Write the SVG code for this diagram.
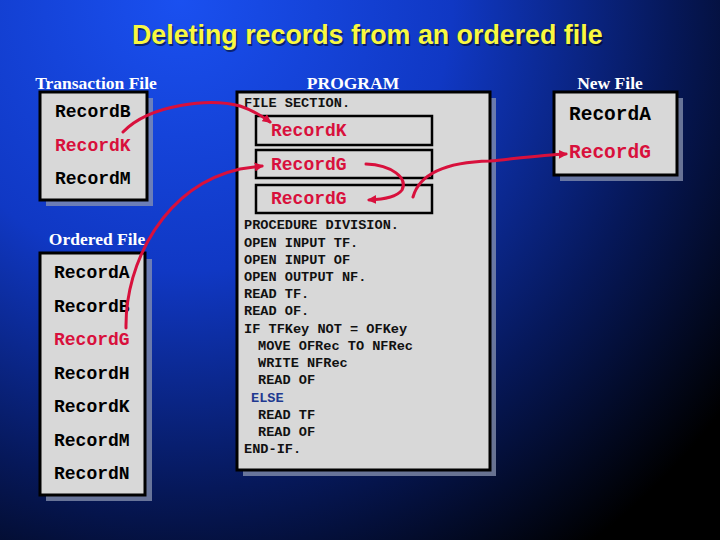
<svg xmlns="http://www.w3.org/2000/svg" width="720" height="540" viewBox="0 0 720 540">
<defs>
<radialGradient id="bg" gradientUnits="userSpaceOnUse" cx="180" cy="0" r="680">
<stop offset="0" stop-color="#1a50f0"/>
<stop offset="0.4" stop-color="#1038c4"/>
<stop offset="0.72" stop-color="#06185a"/>
<stop offset="1" stop-color="#000000"/>
</radialGradient>
<marker id="ah" viewBox="0 0 10 10" refX="8" refY="5" markerWidth="3" markerHeight="3" orient="auto" markerUnits="strokeWidth">
<path d="M0,0 L10,5 L0,10 z" fill="#d8103c"/>
</marker>
</defs>
<style>
.box{fill:#d8d8d8;stroke:#000;stroke-width:3}
.ibox{fill:#d8d8d8;stroke:#000;stroke-width:2.5}
.shadow{fill:#8a94b0;opacity:0.75}
.lbl{font-family:"Liberation Serif",serif;font-weight:bold;font-size:17.5px;fill:#fff}
.rec{font-family:"Liberation Mono",monospace;font-weight:bold;font-size:18px;fill:#000}
.red{fill:#d8103c}
.code{font-family:"Liberation Mono",monospace;font-weight:bold;font-size:13.6px;fill:#111}
.conn{fill:none;stroke:#d8103c;stroke-width:3;stroke-linecap:round;marker-end:url(#ah)}
.title{font-family:"Liberation Sans",Arial,sans-serif;font-weight:bold;font-size:26.8px}
</style>
<rect width="720" height="540" fill="url(#bg)"/>
<text class="title" x="133.5" y="45.5" fill="#000" opacity="0.5">Deleting records from an ordered file</text>
<text class="title" x="132" y="44" fill="#f8f840">Deleting records from an ordered file</text>

<g id="transaction-file">
<text class="lbl" x="96" y="89" text-anchor="middle">Transaction File</text>
<rect class="shadow" x="46" y="98" width="107" height="108"/>
<rect class="box" x="40" y="92" width="107" height="108"/>
<text class="rec" x="55" y="117">RecordB</text>
<text class="rec red" x="55" y="151">RecordK</text>
<text class="rec" x="55" y="184">RecordM</text>
</g>

<g id="ordered-file">
<text class="lbl" x="97" y="245" text-anchor="middle">Ordered File</text>
<rect class="shadow" x="46" y="259" width="106" height="242"/>
<rect class="box" x="40" y="253" width="105" height="242"/>
<text class="rec" x="54" y="278">RecordA</text>
<text class="rec" x="54" y="312">RecordB</text>
<text class="rec red" x="54" y="345">RecordG</text>
<text class="rec" x="54" y="379">RecordH</text>
<text class="rec" x="54" y="412">RecordK</text>
<text class="rec" x="54" y="446">RecordM</text>
<text class="rec" x="54" y="479">RecordN</text>
</g>

<g id="program">
<text class="lbl" x="353" y="89" text-anchor="middle">PROGRAM</text>
<rect class="shadow" x="243" y="98" width="253" height="378"/>
<rect class="box" x="237" y="92" width="253" height="378"/>
<text class="code" x="244" y="107">FILE SECTION.</text>
<rect class="ibox" x="256" y="116" width="176" height="29"/>
<text class="rec red" x="271" y="136">RecordK</text>
<rect class="ibox" x="256" y="150" width="176" height="28"/>
<text class="rec red" x="271" y="170">RecordG</text>
<rect class="ibox" x="256" y="185" width="176" height="28"/>
<text class="rec red" x="271" y="204">RecordG</text>
<text class="code" x="244" y="229">PROCEDURE DIVISION.</text>
<text class="code" x="244" y="247">OPEN INPUT TF.</text>
<text class="code" x="244" y="264">OPEN INPUT OF</text>
<text class="code" x="244" y="281">OPEN OUTPUT NF.</text>
<text class="code" x="244" y="298">READ TF.</text>
<text class="code" x="244" y="315">READ OF.</text>
<text class="code" x="244" y="333">IF TFKey NOT = OFKey</text>
<text class="code" x="258" y="350">MOVE OFRec TO NFRec</text>
<text class="code" x="258" y="367">WRITE NFRec</text>
<text class="code" x="258" y="384">READ OF</text>
<text class="code" x="251" y="402" style="fill:#203890">ELSE</text>
<text class="code" x="258" y="419">READ TF</text>
<text class="code" x="258" y="436">READ OF</text>
<text class="code" x="244" y="453">END-IF.</text>
</g>

<g id="new-file">
<text class="lbl" x="610" y="89" text-anchor="middle">New File</text>
<rect class="shadow" x="560" y="98" width="123" height="83"/>
<rect class="box" x="554" y="92" width="123" height="83"/>
<text class="rec" x="569" y="120" style="font-size:19.5px">RecordA</text>
<text class="rec red" x="569" y="158" style="font-size:19.5px">RecordG</text>
</g>

<g id="connectors">
<path class="conn" d="M123,132 C150,104 210,98 240,106 C252,110 262,116 270,122"/>
<path class="conn" d="M126,328 C125,262 165,186 240,169 L262,166"/>
<path class="conn" d="M366,164 C392,165 408,178 402,190 C397,197 385,199 369,200"/>
<path class="conn" d="M413,197 C420,172 450,162 490,161 C520,158 545,155 566,154"/>
</g>
</svg>
